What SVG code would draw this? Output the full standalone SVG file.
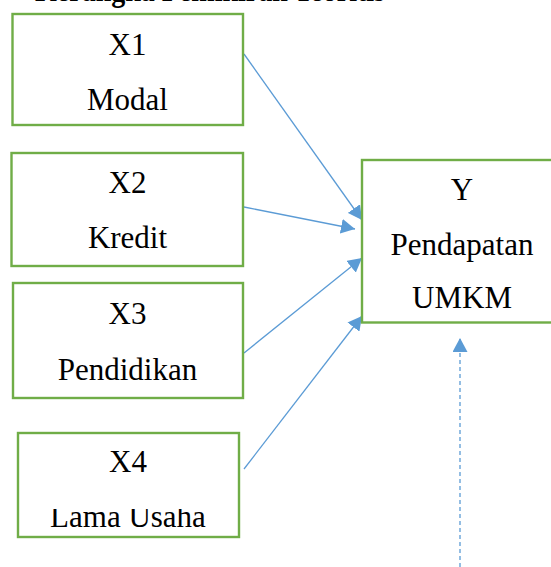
<svg xmlns="http://www.w3.org/2000/svg" width="551" height="567" viewBox="0 0 551 567">
  <style>
    .box { fill: #ffffff; stroke: #70AD47; stroke-width: 2.4; }
    .lbl { font-family: 'Liberation Serif', 'DejaVu Serif', serif; font-size: 31px; fill: #000000; text-anchor: middle; }
    .title { font-family: 'Liberation Serif', 'DejaVu Serif', serif; font-size: 32px; font-weight: bold; fill: #000000; }
    .link { fill: none; stroke: #5B9BD5; stroke-width: 1.3; }
    .dash { stroke-dasharray: 4 3; }
  </style>
  <defs>
    <marker id="head" markerUnits="userSpaceOnUse" markerWidth="15" markerHeight="15" refX="14" refY="7.5" orient="auto">
      <path d="M0,0 L14,7.5 L0,15 z" fill="#5B9BD5"/>
    </marker>
    <clipPath id="cutTop">
      <rect x="0" y="509" width="551" height="40"/>
    </clipPath>
  </defs>

  <rect width="551" height="567" fill="#ffffff"/>

  <!-- heading line, mostly above the top edge -->
  <text class="title" x="35" y="0.8" textLength="350" lengthAdjust="spacingAndGlyphs">Kerangka Pemikiran Teoritis</text>

  <g id="connectors">
    <line class="link" x1="244" y1="54" x2="362" y2="220" marker-end="url(#head)"/>
    <line class="link" x1="244" y1="207" x2="355" y2="229" marker-end="url(#head)"/>
    <line class="link" x1="244" y1="353" x2="362" y2="258" marker-end="url(#head)"/>
    <line class="link" x1="244" y1="469" x2="362" y2="316" marker-end="url(#head)"/>
    <line class="link dash" x1="460" y1="567" x2="460" y2="338" marker-end="url(#head)"/>
  </g>

  <g id="x1">
    <rect class="box" x="12.5" y="14" width="230.5" height="111"/>
    <text class="lbl" x="127.5" y="55">X1</text>
    <text class="lbl" x="127.5" y="110">Modal</text>
  </g>

  <g id="x2">
    <rect class="box" x="11.5" y="153" width="231.5" height="113"/>
    <text class="lbl" x="127.5" y="193">X2</text>
    <text class="lbl" x="127.5" y="248">Kredit</text>
  </g>

  <g id="x3">
    <rect class="box" x="13" y="283" width="230" height="115"/>
    <text class="lbl" x="127.5" y="324">X3</text>
    <text class="lbl" x="127.5" y="380">Pendidikan</text>
  </g>

  <g id="x4">
    <rect class="box" x="18" y="433" width="221" height="104"/>
    <text class="lbl" x="128" y="472">X4</text>
    <text class="lbl" x="128" y="527" clip-path="url(#cutTop)">Lama Usaha</text>
  </g>

  <g id="y">
    <rect class="box" x="362" y="160" width="200" height="162.5"/>
    <text class="lbl" x="462" y="200">Y</text>
    <text class="lbl" x="462" y="255">Pendapatan</text>
    <text class="lbl" x="462" y="308">UMKM</text>
  </g>
</svg>
